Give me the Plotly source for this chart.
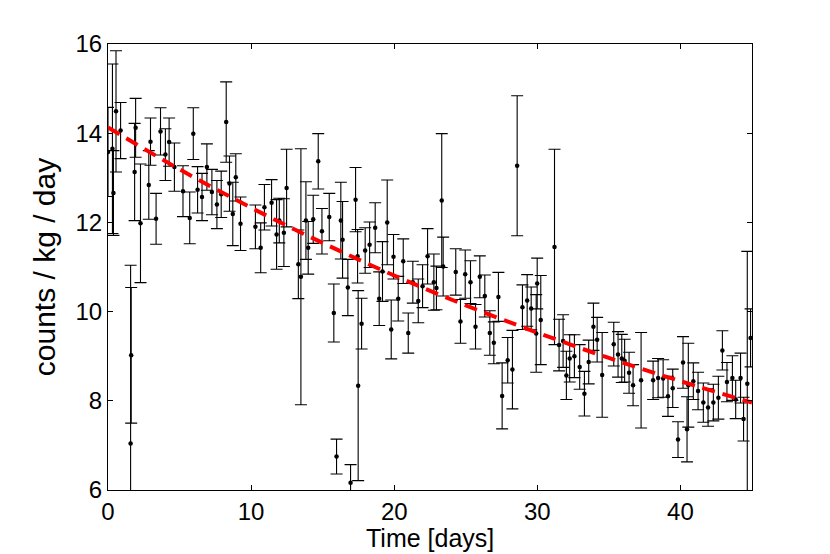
import plotly.graph_objects as go

# measured points: time [days], rate [counts/kg/day], 1-sigma error
time_days = [0.0, 0.31, 0.38, 0.56, 0.88, 1.58, 1.62, 1.86, 1.93, 2.27, 2.85, 2.97, 3.36, 3.67, 4.01, 4.27, 4.64,
             5.24, 5.71, 5.96, 6.26, 6.57, 6.91, 7.26, 7.61, 7.91, 8.26, 8.49, 8.72, 8.93, 9.26, 10.3, 10.67, 10.93,
             11.43, 11.78, 11.97, 12.29, 12.48, 13.3, 13.48, 13.83, 13.99, 14.34, 14.69, 14.95, 15.46, 15.78, 15.97,
             16.27, 16.39, 16.76, 16.95, 17.3, 17.44, 17.48, 17.72, 17.97, 18.28, 18.67, 18.95, 19.18, 19.51, 19.79,
             19.95, 20.28, 20.63, 20.98, 21.3, 21.68, 21.98, 22.33, 22.77, 22.95, 23.32, 23.42, 24.3, 24.63, 24.96,
             25.33, 25.68, 25.98, 26.33, 26.68, 26.96, 27.28, 27.54, 27.93, 28.26, 28.59, 28.96, 29.29, 29.57, 29.92,
             29.99, 30.24, 31.2, 31.52, 31.8, 32.03, 32.26, 32.59, 32.96, 33.29, 33.59, 33.92, 34.18, 34.53, 35.34,
             35.64, 35.9, 36.1, 36.41, 36.69, 37.25, 38.09, 38.44, 38.79, 39.13, 39.46, 39.83, 40.18, 40.46, 40.55,
             40.9, 41.23, 41.6, 41.93, 42.3, 42.65, 42.93, 43.25, 43.63, 43.86, 44.2, 44.41, 44.67, 44.9]
rate = [13.58, 13.65, 12.66, 14.49, 14.06, 7.04, 9.02, 13.13, 14.12, 11.98, 12.84, 13.81, 12.08, 14.04, 13.52, 13.8,
        13.24, 12.7, 12.1, 13.99, 12.73, 12.57, 13.24, 12.68, 12.4, 12.63, 14.25, 12.87, 12.19, 13.01, 11.97, 11.9,
        11.43, 12.34, 12.44, 11.73, 12.04, 11.77, 12.77, 11.06, 10.78, 12.04, 11.43, 12.07, 13.37, 11.8, 12.12, 9.97,
        6.75, 12.04, 11.61, 10.54, 6.16, 12.51, 11.24, 8.34, 9.73, 11.37, 11.5, 11.88, 10.29, 10.9, 12.0, 9.6, 11.23,
        10.29, 11.13, 9.52, 10.66, 10.24, 10.57, 11.24, 10.66, 10.53, 12.49, 11.01, 10.89, 9.78, 10.84, 10.66, 9.66,
        10.78, 10.35, 9.52, 9.3, 10.33, 8.11, 8.91, 8.7, 13.27, 10.1, 10.25, 10.07, 9.51, 10.63, 9.81, 11.45, 9.25,
        9.34, 8.57, 8.95, 9.0, 8.76, 8.16, 8.87, 9.66, 9.37, 8.58, 9.27, 9.04, 8.95, 8.9, 8.63, 8.35, 8.46, 8.46, 8.51,
        8.5, 8.1, 8.28, 7.13, 8.86, 7.36, 8.35, 8.44, 8.22, 7.96, 7.85, 7.96, 8.07, 9.13, 8.42, 8.51, 8.03, 8.51, 7.59,
        8.38, 9.41]
rate_err = [1.0, 1.9, 0.95, 1.36, 0.63, 4.0, 1.52, 1.09, 0.66, 1.33, 0.77, 0.53, 0.57, 0.53, 0.58, 0.54, 0.54,
            0.57, 0.58, 0.58, 0.52, 0.53, 0.52, 0.51, 0.54, 0.52, 0.9, 0.62, 0.71, 0.53, 0.6, 0.49,
            0.56, 0.51, 0.52, 0.78, 0.5, 0.76, 0.87, 0.77, 2.87, 0.87, 0.59, 0.54, 0.62, 0.51, 0.53, 0.65,
            0.39, 0.86, 0.86, 0.63, 0.41, 0.72, 0.6, 2.13, 0.57, 0.51, 0.51, 0.56, 0.6, 0.67, 0.95, 0.66, 0.5,
            0.5, 0.5, 0.45, 0.47, 0.49, 0.48, 0.62, 0.63, 0.49, 1.5, 0.66, 0.52, 0.49, 0.54, 0.48, 0.5,
            0.47, 0.47, 0.5, 0.47, 0.55, 0.74, 0.51, 0.88, 1.57, 0.5, 0.58, 0.48, 0.87, 0.57, 1.0, 2.19, 0.58,
            0.59, 0.54, 0.53, 0.48, 0.5, 0.5, 0.49, 0.53, 0.5, 0.95, 0.49, 0.51, 0.54, 0.48, 0.46, 0.46, 1.07, 0.43, 0.44,
            0.42, 0.45, 0.43, 0.4, 0.58, 0.73, 0.94, 0.41, 0.42, 0.44, 0.42, 0.41, 0.48, 0.44, 0.44, 0.5, 0.43, 0.56, 0.49,
            2.97, 0.65]

# fitted decay curve
fit_time = [0, 5, 10, 15, 20, 25, 30, 35, 40, 45]
fit_rate = [14.13, 13.19, 12.33, 11.54, 10.81, 10.14, 9.53, 8.96, 8.44, 7.96]

x_ticks = [0, 10, 20, 30, 40]
y_ticks = [6, 8, 10, 12, 14, 16]
x_title = "Time [days]"
y_title = "counts / kg / day"

fig = go.Figure()
fig.add_trace(go.Scatter(
    x=time_days, y=rate, mode="markers",
    marker=dict(color="black", size=4.5),
    error_y=dict(type="data", array=rate_err, visible=True, color="black", thickness=1.1, width=6),
    showlegend=False, cliponaxis=True,
))
fig.add_trace(go.Scatter(
    x=fit_time, y=fit_rate, mode="lines",
    line=dict(color="#ff0000", width=4, dash="13px,8px", shape="spline"),
    showlegend=False,
))

regular = "Liberation Sans, Arial, Helvetica, sans-serif"

fig.update_layout(
    width=830, height=554,
    margin=dict(l=100, r=86, t=36, b=72),
    paper_bgcolor="white", plot_bgcolor="white",
    font=dict(family=regular, color="black"),
    xaxis=dict(
        range=[0, 45], tickvals=x_ticks, ticks="inside", ticklen=5, tickcolor="black",
        showline=True, linecolor="black", linewidth=1, mirror="ticks", showgrid=False, zeroline=False,
        automargin=False,
        tickfont=dict(family=regular, size=24, color="black"),
    ),
    yaxis=dict(
        range=[6, 16], tickvals=y_ticks, ticks="inside", ticklen=5, tickcolor="black",
        showline=True, linecolor="black", linewidth=1, mirror="ticks", showgrid=False, zeroline=False,
        automargin=False,
        tickfont=dict(family=regular, size=24, color="black"),
        title=dict(text=y_title, font=dict(family=regular, size=30, color="black"), standoff=10),
    ),
    annotations=[dict(
        text=x_title, xref="paper", yref="paper", x=0.5, y=0, xanchor="center", yanchor="top",
        yshift=-32, showarrow=False, font=dict(family=regular, size=25, color="black"),
    )],
)

fig.write_html("out.html")
